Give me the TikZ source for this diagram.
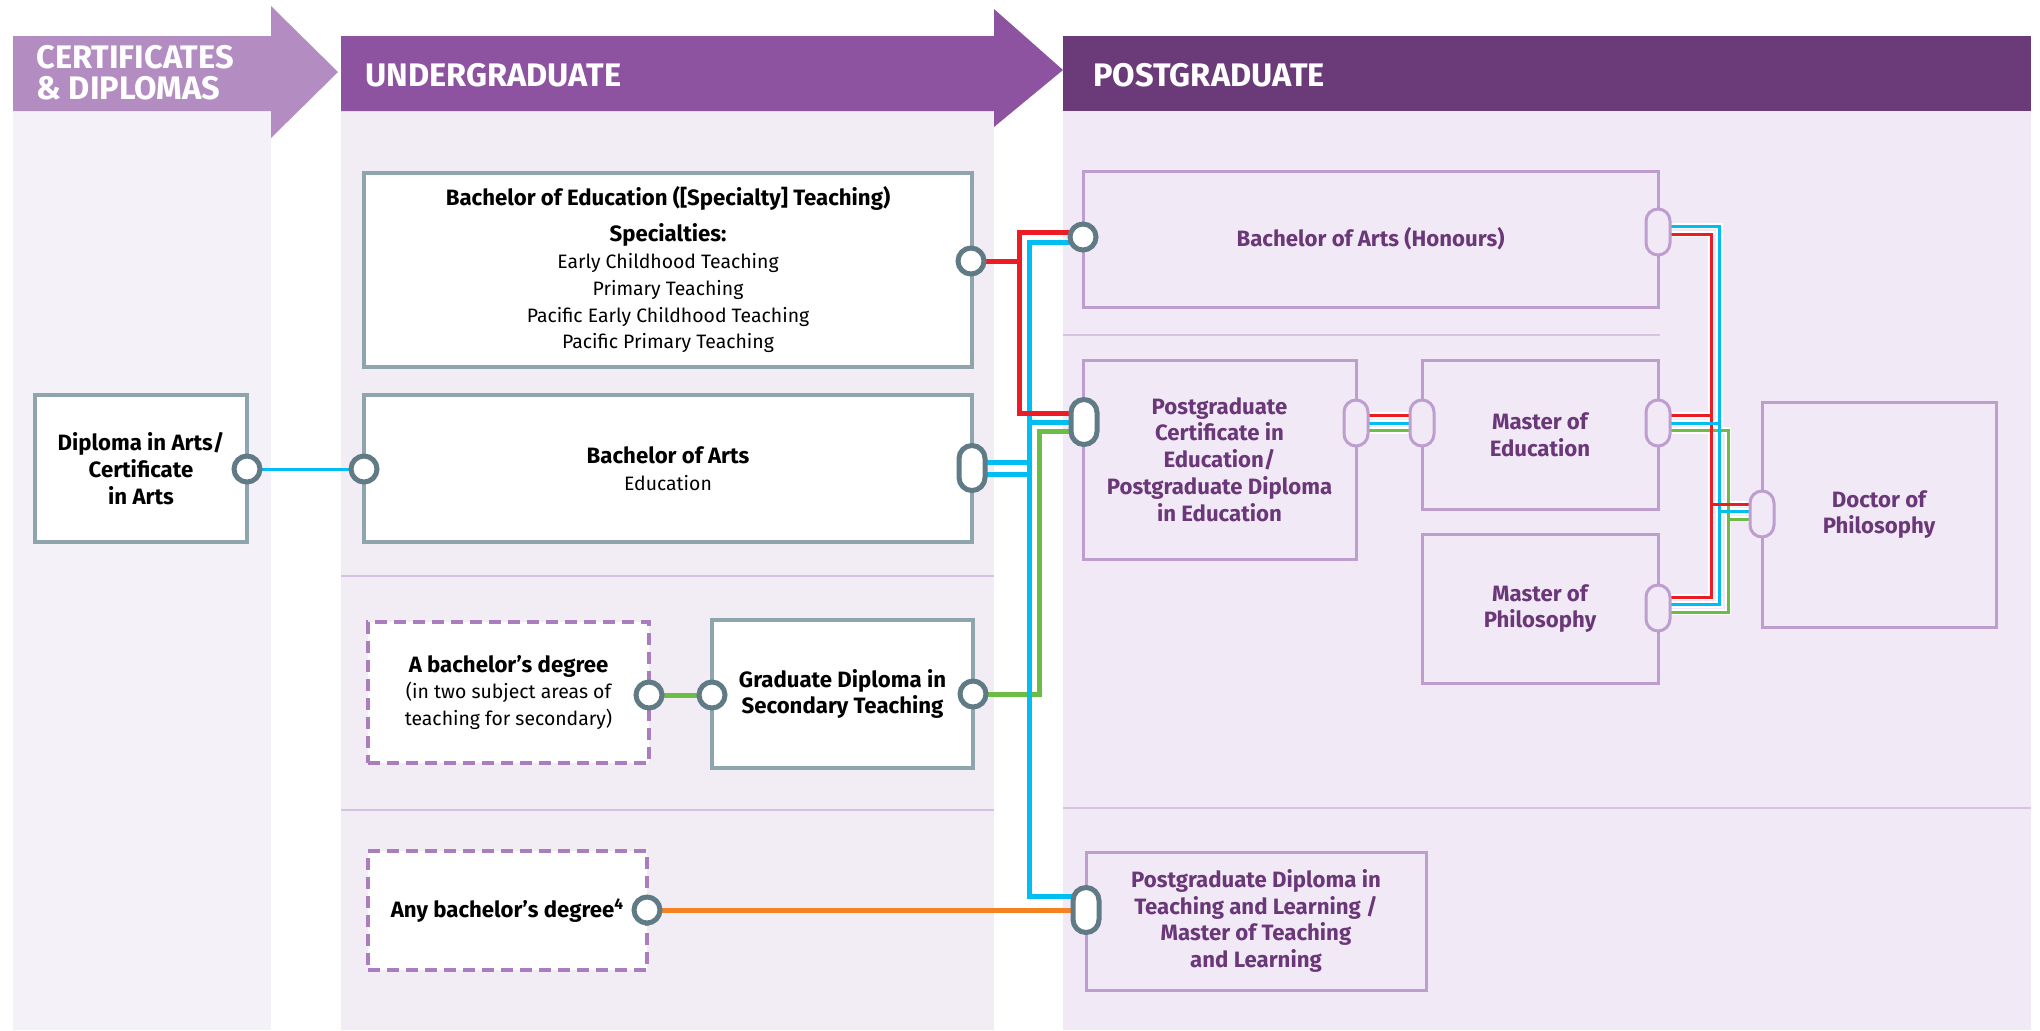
\documentclass[tikz,border=0pt]{standalone}
\usepackage{fontspec}
\setmainfont{Fira Sans}
\pgfdeclarelayer{bg}
\pgfdeclarelayer{casing}
\pgfdeclarelayer{lines}
\pgfsetlayers{bg,casing,lines,main}
\definecolor{certband}{HTML}{B38DC1}
\definecolor{ugband}{HTML}{8E53A0}
\definecolor{pgband}{HTML}{6B3B79}
\definecolor{certbg}{HTML}{F5F1F8}
\definecolor{ugbg}{HTML}{F2EDF5}
\definecolor{pgbg}{HTML}{F1EAF6}
\definecolor{sepc}{HTML}{D8C2E2}
\definecolor{ugedge}{HTML}{8FA5AE}
\definecolor{pgedge}{HTML}{BE9DCF}
\definecolor{dashc}{HTML}{A97DBE}
\definecolor{conn}{HTML}{607B86}
\definecolor{pgtext}{HTML}{6A3878}
\definecolor{lred}{HTML}{ED1C24}
\definecolor{lcyan}{HTML}{00BEF2}
\definecolor{lgreen}{HTML}{6CBD45}
\definecolor{lorange}{HTML}{F58220}
\newcommand\myregfont{\fontsize{9.7pt}{13.4pt}\selectfont}
\newcommand\myboldfont{\fontsize{11.1pt}{13.4pt}\selectfont\bfseries}
\newcommand\myhdrfont{\fontsize{16.3pt}{15.5pt}\selectfont\bfseries}
\newcommand\thinlink[2]{%
  \begin{pgfonlayer}{casing}\draw[white,line width=3.25pt] #2;\end{pgfonlayer}%
  \begin{pgfonlayer}{lines}\draw[#1,line width=1.5pt] #2;\end{pgfonlayer}}
\begin{document}
\begin{tikzpicture}[x=0.5pt,y=-0.5pt,
  hdr/.style={text=white,font=\myhdrfont,align=left,inner sep=0pt,anchor=west},
  ugbox/.style={draw=ugedge,line width=1.75pt,fill=white,align=center,inner sep=2pt,text=black,font=\myregfont},
  dbox/.style={draw=dashc,line width=1.75pt,dash pattern=on 6pt off 3.5pt,fill=white,align=center,inner sep=2pt,text=black,font=\myregfont},
  pgbox/.style={draw=pgedge,line width=1.5pt,fill=pgbg,align=center,inner sep=2pt,text=pgtext,font=\myboldfont},
  dot/.style={circle,draw=conn,line width=2.5pt,fill=white,minimum size=13pt,inner sep=0pt},
  dpill/.style={rectangle,rounded corners=6.5pt,draw=conn,line width=2.5pt,fill=white,minimum width=13pt,minimum height=22.5pt,inner sep=0pt},
  lpill/.style={rectangle,rounded corners=6pt,draw=pgedge,line width=1.5pt,fill=pgbg,minimum width=12pt,minimum height=23pt,inner sep=0pt},
  thickline/.style={line width=2.5pt},
  thincyan/.style={lcyan,line width=1.5pt}]
\useasboundingbox (0,0) rectangle (2040,1030);
\begin{pgfonlayer}{bg}
\fill[white] (0,0) rectangle (2040,1030);
\fill[certbg] (13,111) rectangle (271,1030);
\fill[ugbg] (341,111) rectangle (994,1030);
\fill[pgbg] (1063,111) rectangle (2031,1030);
\fill[certband] (13,36) -- (271,36) -- (271,6) -- (338,72) -- (271,138) -- (271,111) -- (13,111) -- cycle;
\fill[ugband] (341,36) -- (994,36) -- (994,9) -- (1063,70) -- (994,127) -- (994,111) -- (341,111) -- cycle;
\fill[pgband] (1063,36) rectangle (2031,111);
\draw[sepc,line width=1pt] (341,576) -- (994,576);
\draw[sepc,line width=1pt] (341,810) -- (994,810);
\draw[sepc,line width=1pt] (1063,335) -- (1660,335);
\draw[sepc,line width=1pt] (1063,808) -- (2031,808);
\end{pgfonlayer}

% headers
\node[hdr] (hcert) at (36,73) {CERTIFICATES\\\& DIPLOMAS};
\node[hdr] (hug) at (365,75) {UNDERGRADUATE};
\node[hdr] (hpg) at (1093,75) {POSTGRADUATE};

% boxes
\node[ugbox,font=\myboldfont,minimum width=106pt,minimum height=73.5pt] (dip) at (141,468.5) {Diploma in Arts/\\Certificate\\in Arts};
\node[ugbox,minimum width=304pt,minimum height=97pt] (bed) at (668,270) {{\myboldfont Bachelor of Education ([Specialty] Teaching)}\\[4.5pt]{\myboldfont Specialties:}\\Early Childhood Teaching\\Primary Teaching\\Pacific Early Childhood Teaching\\Pacific Primary Teaching};
\node[ugbox,minimum width=304pt,minimum height=73.5pt] (ba) at (668,468.5) {{\myboldfont Bachelor of Arts}\\Education};
\node[dbox,minimum width=140.5pt,minimum height=70.5pt] (bdeg) at (508.5,692.5) {{\myboldfont A bachelor’s degree}\\(in two subject areas of\\teaching for secondary)};
\node[ugbox,font=\myboldfont,minimum width=130.5pt,minimum height=74pt] (gdst) at (842.5,694) {Graduate Diploma in\\Secondary Teaching};
\node[dbox,font=\myboldfont,minimum width=139.5pt,minimum height=59.5pt] (anyb) at (507.5,910.5) {Any bachelor’s degree\textsuperscript{4}};

\node[pgbox,minimum width=287.5pt,minimum height=68pt] (bah) at (1370.5,239) {Bachelor of Arts (Honours)};
\node[pgbox,minimum width=136.5pt,minimum height=99.5pt] (pgc) at (1219.5,459.5) {Postgraduate\\Certificate in\\Education/\\Postgraduate Diploma\\in Education};
\node[pgbox,minimum width=118pt,minimum height=74.5pt] (med) at (1540,434.5) {Master of\\Education};
\node[pgbox,minimum width=118pt,minimum height=74.5pt] (mphil) at (1540,608.5) {Master of\\Philosophy};
\node[pgbox,minimum width=117pt,minimum height=112.5pt] (phd) at (1879,514.5) {Doctor of\\Philosophy};
\node[pgbox,minimum width=170pt,minimum height=69pt] (pgdtl) at (1256,921) {Postgraduate Diploma in\\Teaching and Learning /\\Master of Teaching\\and Learning};

% connectors
\node[dot] (dipR) at (247,469) {};
\node[dot] (baL) at (364,469) {};
\node[dpill] (baR) at (972,468) {};
\node[dot] (bedR) at (971,261) {};
\node[dot] (bdegR) at (649,695) {};
\node[dot] (gdstL) at (712,695) {};
\node[dot] (gdstR) at (973,694) {};
\node[dot] (anybR) at (647,910) {};
\node[dot] (bahL) at (1083,237) {};
\node[dpill] (pgcL) at (1084,422) {};
\node[dpill] (pgdtlL) at (1086,910) {};
\node[lpill] (bahR) at (1658,232) {};
\node[lpill] (pgcR) at (1356,423) {};
\node[lpill] (medL) at (1422,423) {};
\node[lpill] (medR) at (1658,423) {};
\node[lpill] (mphilR) at (1658,608) {};
\node[lpill] (phdL) at (1762,514) {};

% thick links
\begin{pgfonlayer}{lines}
\draw[thincyan] (dipR.center) -- (baL.center);
\draw[thickline,lgreen] (bdegR.center) -- (gdstL.center);
\draw[thickline,lgreen] (gdstR.center) -- (1039,694) -- (1039,431) -- ([yshift=-4.5pt]pgcL.center);
\draw[thickline,lcyan] ([yshift=-2.5pt]bahL.center) -- (1029,242) -- (1029,896) -- ([yshift=7pt]pgdtlL.center);
\draw[thickline,lcyan] ([yshift=3pt]baR.center) -- (1029,462);
\draw[thickline,lcyan] ([yshift=-3pt]baR.center) -- (1029,474);
\draw[thickline,lcyan] (1029,422) -- (pgcL.center);
\draw[thickline,lred] (bedR.center) -- (1019,261);
\draw[thickline,lred] ([yshift=2.5pt]bahL.center) -- (1019,232) -- (1019,413) -- ([yshift=4.5pt]pgcL.center);
\draw[thickline,lorange] (anybR.center) -- (pgdtlL.center);
\end{pgfonlayer}

% thin links (postgraduate)
\thinlink{lgreen}{([yshift=-3.75pt]medR.center) -- (1728,430.5) -- (1728,612) -- ([yshift=-2pt]mphilR.center)}
\thinlink{lcyan}{([yshift=3pt]bahR.center) -- (1719.5,226) -- (1719.5,604.5) -- ([yshift=1.75pt]mphilR.center)}
\thinlink{lred}{([yshift=-1pt]bahR.center) -- (1711,234) -- (1711,597) -- ([yshift=5.5pt]mphilR.center)}
\thinlink{lred}{([yshift=3.75pt]medR.center) -- (1711,415.5)}
\thinlink{lcyan}{(medR.center) -- (1719.5,423)}
\thinlink{lgreen}{(1728,519) -- ([yshift=-2.5pt]phdL.center)}
\thinlink{lcyan}{(1719.5,511.5) -- ([yshift=1.25pt]phdL.center)}
\thinlink{lred}{(1711,504) -- ([yshift=5pt]phdL.center)}
\thinlink{lred}{([yshift=3.75pt]pgcR.center) -- ([yshift=3.75pt]medL.center)}
\thinlink{lcyan}{(pgcR.center) -- (medL.center)}
\thinlink{lgreen}{([yshift=-3.75pt]pgcR.center) -- ([yshift=-3.75pt]medL.center)}
\end{tikzpicture}
\end{document}
